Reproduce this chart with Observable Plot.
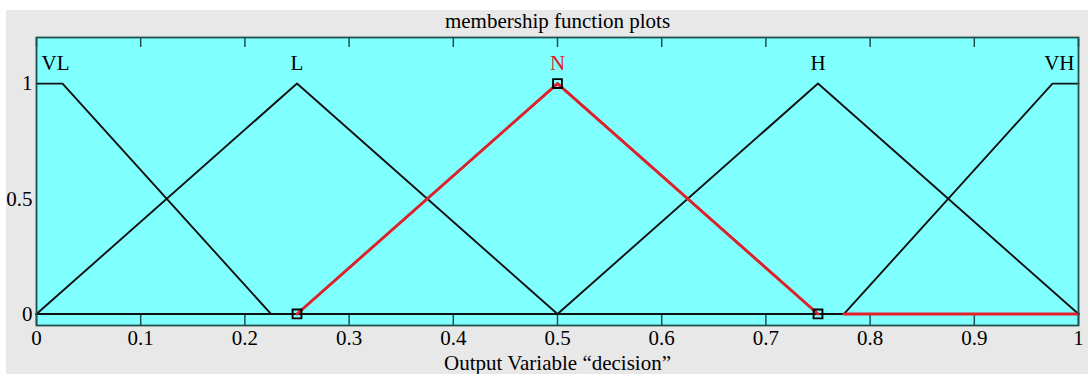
<!DOCTYPE html>
<html><head><meta charset="utf-8">
<script src="https://cdn.jsdelivr.net/npm/d3@7"></script>
<script src="https://cdn.jsdelivr.net/npm/@observablehq/plot@0.6"></script>
<style>
body{margin:0;background:#fff;}
#chart{position:absolute;left:6px;top:10px;}
</style></head><body><div id="chart"></div>
<script>
const titleText = "membership function plots";
const xLabelText = "Output Variable \u201cdecision\u201d";
const xTicks = [0,0.1,0.2,0.3,0.4,0.5,0.6,0.7,0.8,0.9,1];
const xTickLabels = ["0","0.1","0.2","0.3","0.4","0.5","0.6","0.7","0.8","0.9","1"];
const yTicks = [0,0.5,1];
const yTickLabels = ["0","0.5","1"];

// membership functions (vertices over the 0..1 range)
const mfNames = ["VL","L","N","H","VH"];
const vlX = [0,0.025,0.225,1],        vlY = [1,1,0,0];
const lX  = [0,0.25,0.5,1],           lY  = [0,1,0,0];
const nX  = [0,0.25,0.5,0.75,1],      nY  = [0,0,1,0,0];
const hX  = [0,0.5,0.75,1],           hY  = [0,0,1,0];
const vhX = [0,0.775,0.975,1],        vhY = [0,0,1,1];
const mfXs = [vlX,lX,nX,hX,vhX];
const mfYs = [vlY,lY,nY,hY,vhY];
const labelX = [0,0.25,0.5,0.75,1];
const labelPeak = [1,1,1,1,1];

// selected (highlighted) function N
const selX = [0.25,0.5,0.75], selY = [0,1,0];
const selTailX = [0.775,1],   selTailY = [0,0];

const rows = [];
mfNames.forEach((n,i)=>mfXs[i].forEach((x,j)=>rows.push({name:n,x,y:mfYs[i][j]})));
const sel = selX.map((x,i)=>({x,y:selY[i]}));
const selTail = selTailX.map((x,i)=>({x,y:selTailY[i]}));
const labels = mfNames.map((n,i)=>({name:n,x:labelX[i],y:labelPeak[i]}));

const inkTeal = "#1f4f4f";
const red = "#e0202a";
const serif = "'Liberation Serif','Times New Roman',serif";
const FS = 21;

const chart = Plot.plot({
  width:1082, height:364,
  marginLeft:30, marginRight:10, marginTop:27, marginBottom:49,
  x:{domain:[0,1]},
  y:{domain:[-0.05,1.2]},
  style:{background:"#e8e8e8", fontFamily:serif, fontSize:FS+"px", color:"#000"},
  marks:[
    Plot.frame({fill:"#80ffff", stroke:null}),
    Plot.axisX(xTicks,{anchor:"bottom", tickSize:-11, text:null, stroke:inkTeal, strokeWidth:1.5, label:null}),
    Plot.axisX(xTicks,{anchor:"top", tickSize:-9, text:null, stroke:inkTeal, strokeWidth:1.5, label:null}),
    Plot.axisX(xTicks,{anchor:"bottom", tickSize:0, tickPadding:5, tickFormat:(d,i)=>xTickLabels[i], label:null, fontSize:FS}),
    Plot.axisY(yTicks,{anchor:"left", tickSize:0, tickPadding:4, tickFormat:(d,i)=>yTickLabels[i], label:null, fontSize:FS}),
    Plot.line(rows,{x:"x", y:"y", z:"name", stroke:"#111", strokeWidth:1.9}),
    Plot.line(sel,{x:"x", y:"y", stroke:red, strokeWidth:2.9}),
    Plot.line(selTail,{x:"x", y:"y", stroke:red, strokeWidth:2.9}),
    Plot.dot(sel,{x:"x", y:"y", symbol:"square", r:5, stroke:"#000", fill:"none", strokeWidth:1.9}),
    Plot.text(labels.filter(d=>d.name!=="VL"&&d.name!=="VH"),{x:"x", y:"y", text:"name", dy:-14, lineAnchor:"bottom",
      textAnchor:"middle", fill:d=>d.name==="N"?red:"#000", fontSize:FS}),
    Plot.text(labels.filter(d=>d.name==="VL"),{x:"x", y:"y", text:"name", dy:-14, dx:5, lineAnchor:"bottom",
      textAnchor:"start", fill:"#000", fontSize:FS}),
    Plot.text(labels.filter(d=>d.name==="VH"),{x:"x", y:"y", text:"name", dy:-14, dx:-4, lineAnchor:"bottom",
      textAnchor:"end", fill:"#000", fontSize:FS}),
    Plot.frame({stroke:inkTeal, strokeWidth:1.8}),
    Plot.text([titleText],{frameAnchor:"top", text:d=>d, dy:-16, lineAnchor:"middle", fontSize:FS}),
    Plot.text([xLabelText],{frameAnchor:"bottom", text:d=>d, dy:38, lineAnchor:"middle", fontSize:FS})
  ]
});
document.getElementById("chart").appendChild(chart);
</script></body></html>
